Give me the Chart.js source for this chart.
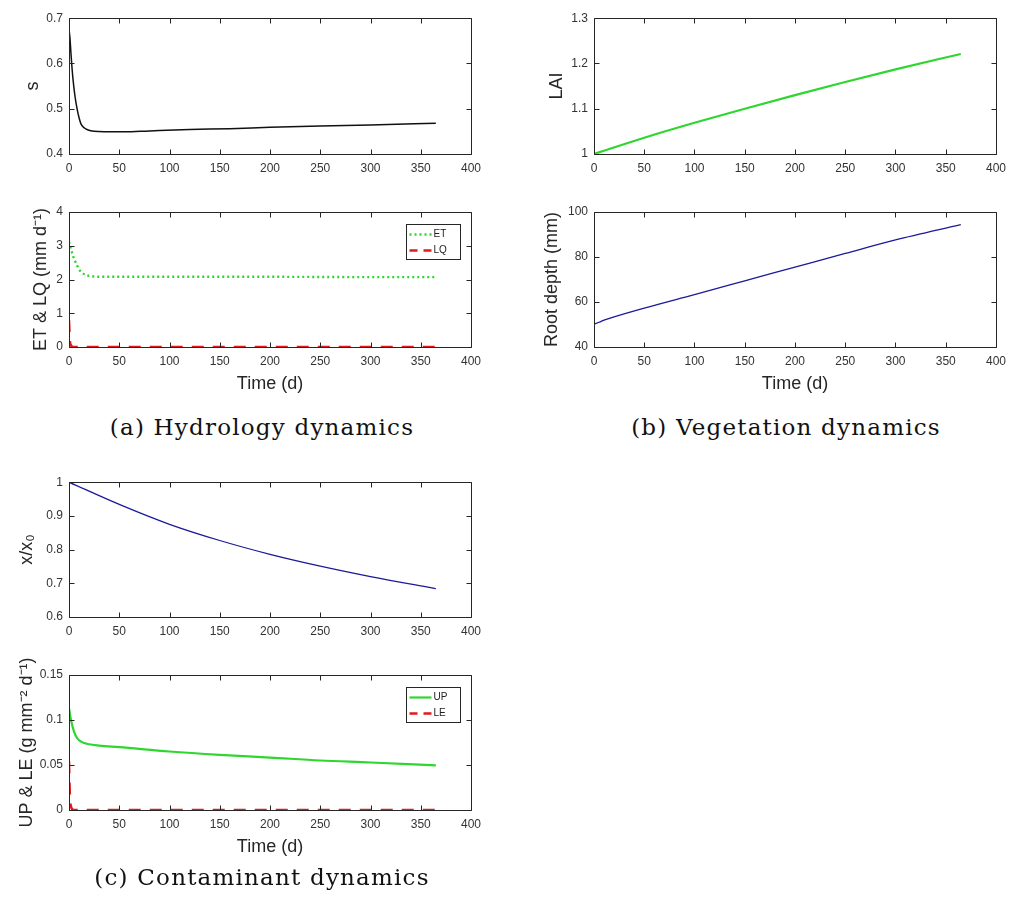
<!DOCTYPE html>
<html>
<head>
<meta charset="utf-8">
<script src="https://cdn.jsdelivr.net/npm/chart.js@4.4.0/dist/chart.umd.min.js"></script>
<style>
  body { margin:0; background:#fff; width:1013px; height:909px; position:relative; overflow:hidden; }
  canvas { position:absolute; }
  .cap { position:absolute; font-family:"DejaVu Serif", serif; font-size:23px; letter-spacing:1.2px; line-height:28px; color:#111; white-space:nowrap; transform:translateX(-50%); }
</style>
</head>
<body>
<canvas id="aTop"></canvas>
<canvas id="aBot"></canvas>
<canvas id="bTop"></canvas>
<canvas id="bBot"></canvas>
<canvas id="cTop"></canvas>
<canvas id="cBot"></canvas>
<div class="cap" style="left:262px;top:413px">(a) Hydrology dynamics</div>
<div class="cap" style="left:786px;top:413px">(b) Vegetation dynamics</div>
<div class="cap" style="left:262px;top:863px">(c) Contaminant dynamics</div>
<script>
// soil moisture
const sTime = [0, 1, 2, 3, 4, 6, 8, 10, 12, 15, 19, 25, 35, 55, 80, 120, 160, 200, 250, 300, 365];
const sVal  = [0.675, 0.655, 0.62, 0.59, 0.565, 0.527, 0.5, 0.48, 0.466, 0.458, 0.453, 0.45, 0.449, 0.449, 0.451, 0.454, 0.456, 0.459, 0.462, 0.464, 0.468];
// ET & LQ
const etTime = [0, 2, 4, 6, 8, 10, 13, 17, 22, 30, 100, 200, 300, 365];
const etVal  = [3.12, 2.9, 2.7, 2.55, 2.42, 2.3, 2.2, 2.13, 2.1, 2.08, 2.08, 2.08, 2.07, 2.07];
const lqTime = [0, 0.5, 1, 2, 3, 5, 365];
const lqVal  = [0.8, 0.4, 0.15, 0.05, 0.01, 0, 0];
// vegetation
const laiTime = [0, 50, 100, 150, 200, 250, 300, 365];
const laiVal  = [1.0, 1.036, 1.069, 1.1, 1.13, 1.159, 1.187, 1.221];
const rootTime = [0, 5, 10, 20, 50, 100, 150, 200, 250, 300, 365];
const rootVal  = [50.1, 51, 51.9, 53.4, 57.3, 63.3, 69.4, 75.5, 81.6, 87.6, 94.4];
// contaminant
const xTime = [0, 50, 100, 150, 200, 250, 300, 365];
const xVal  = [1.0, 0.934, 0.875, 0.827, 0.786, 0.751, 0.72, 0.684];
const upTime = [0, 2, 5, 8, 12, 20, 30, 50, 100, 150, 200, 250, 300, 365];
const upVal  = [0.113, 0.1, 0.087, 0.08, 0.076, 0.073, 0.0715, 0.0698, 0.065, 0.0613, 0.0583, 0.055, 0.0528, 0.0495];
const leTime = [0, 0.5, 1, 2, 3, 5, 365];
const leVal  = [0.054, 0.03, 0.012, 0.004, 0.001, 0, 0];

const GREEN = '#2fd62f', RED = '#e01b1b', NAVY = '#1a1a9a';
const TXT = '#333', AX = '#262626';
const SANS = '"Liberation Sans", Arial, sans-serif';

const pts = (t, v) => t.map((x, i) => ({ x: x, y: v[i] }));
const fmt = v => String(+(+v).toFixed(3));

// box + inward ticks on all sides, and a matlab-like legend
const frame = {
  id: 'frame',
  afterDraw(chart, args, opts) {
    const { ctx, chartArea: a, scales } = chart;
    const L = Math.round(a.left) + 0.5, R = Math.round(a.right) + 0.5;
    const T = Math.round(a.top) + 0.5, B = Math.round(a.bottom) + 0.5;
    ctx.save();
    ctx.strokeStyle = AX; ctx.lineWidth = 1;
    ctx.beginPath();
    ctx.rect(L, T, R - L, B - T);
    scales.x.ticks.forEach(t => {
      const p = Math.round(scales.x.getPixelForValue(t.value)) + 0.5;
      ctx.moveTo(p, B); ctx.lineTo(p, B - 5);
      ctx.moveTo(p, T); ctx.lineTo(p, T + 5);
    });
    scales.y.ticks.forEach(t => {
      const p = Math.round(scales.y.getPixelForValue(t.value)) + 0.5;
      ctx.moveTo(L, p); ctx.lineTo(L + 5, p);
      ctx.moveTo(R, p); ctx.lineTo(R - 5, p);
    });
    ctx.stroke();
    if (opts.legend) {
      const w = 54, h = 35;
      const bx = Math.round(a.right - 11 - w) + 0.5, by = Math.round(a.top + 12) + 0.5;
      ctx.fillStyle = '#fff';
      ctx.fillRect(bx, by, w, h);
      ctx.strokeStyle = AX;
      ctx.strokeRect(bx, by, w, h);
      chart.data.datasets.forEach((ds, i) => {
        const yy = by + 10 + i * 16;
        ctx.beginPath();
        ctx.strokeStyle = ds.borderColor;
        ctx.lineWidth = ds.borderWidth;
        ctx.setLineDash(ds.legendDash || ds.borderDash || []);
        ctx.moveTo(bx + 3, yy); ctx.lineTo(bx + 25, yy);
        ctx.stroke();
        ctx.setLineDash([]);
        ctx.fillStyle = '#222';
        ctx.font = '10px ' + SANS;
        ctx.textBaseline = 'middle';
        ctx.fillText(ds.label, bx + 27, yy);
      });
    }
    ctx.restore();
  }
};

function panel(id, pos, datasets, y, xTitle, legend) {
  const cv = document.getElementById(id);
  cv.width = pos.w; cv.height = pos.h;
  cv.style.left = pos.l + 'px'; cv.style.top = pos.t + 'px';
  const xh = xTitle ? 50 : 25;
  return new Chart(cv, {
    type: 'line',
    data: { datasets: datasets },
    options: {
      responsive: false, animation: false,
      layout: { padding: { left: 0, top: pos.pt, right: pos.pr, bottom: 0 } },
      plugins: { legend: { display: false }, tooltip: { enabled: false }, frame: { legend: legend } },
      elements: { point: { radius: 0 }, line: { cubicInterpolationMode: 'monotone' } },
      scales: {
        x: {
          type: 'linear', min: 0, max: 400,
          grid: { display: false, drawTicks: false }, border: { display: false },
          ticks: { stepSize: 50, autoSkip: false, maxRotation: 0, padding: 7, color: TXT,
                   font: { family: SANS, size: 12 } },
          title: { display: !!xTitle, text: xTitle, color: AX, padding: { top: 0, bottom: 2 },
                   font: { family: SANS, size: 18 } },
          afterFit: s => { s.height = xh; }
        },
        y: {
          min: y.min, max: y.max,
          grid: { display: false, drawTicks: false }, border: { display: false },
          ticks: { stepSize: y.step, autoSkip: false, padding: 6, color: TXT, callback: fmt,
                   font: { family: SANS, size: 12 } },
          title: { display: true, text: y.title, color: AX, padding: { top: y.tp, bottom: 0 },
                   font: { family: SANS, size: 18 } },
          afterFit: s => { s.width = 69; }
        }
      }
    },
    plugins: [frame]
  });
}

const line = (label, t, v, color, width, dash, legendDash) => ({
  label: label, data: pts(t, v), borderColor: color, borderWidth: width,
  borderDash: dash || [], legendDash: legendDash, fill: false, pointRadius: 0
});

panel('aTop', { l: 0, t: 5, w: 493, h: 12 + 137 + 25, pt: 12, pr: 22 },
  [line('s', sTime, sVal, '#111', 1.5)],
  { min: 0.4, max: 0.7, step: 0.1, title: 's', tp: 22 }, '', false);

panel('aBot', { l: 0, t: 172, w: 493, h: 40 + 135 + 50, pt: 40, pr: 22 },
  [line('ET', etTime, etVal, GREEN, 2.4, [2, 3]), line('LQ', lqTime, lqVal, RED, 2.5, [12, 9], [8, 6])],
  { min: 0, max: 4, step: 1, title: 'ET & LQ (mm d\u207B\u00B9)', tp: 30 }, 'Time (d)', true);

panel('bTop', { l: 525, t: 5, w: 488, h: 12 + 137 + 25, pt: 12, pr: 17 },
  [line('LAI', laiTime, laiVal, GREEN, 2.2)],
  { min: 1, max: 1.3, step: 0.1, title: 'LAI', tp: 21 }, '', false);

panel('bBot', { l: 525, t: 172, w: 488, h: 40 + 135 + 50, pt: 40, pr: 17 },
  [line('Root depth', rootTime, rootVal, NAVY, 1.3)],
  { min: 40, max: 100, step: 20, title: 'Root depth (mm)', tp: 16 }, 'Time (d)', false);

panel('cTop', { l: 0, t: 469, w: 493, h: 12 + 136 + 25, pt: 12, pr: 22 },
  [line('x/x0', xTime, xVal, NAVY, 1.3)],
  { min: 0.6, max: 1, step: 0.1, title: 'x/x\u2080', tp: 16 }, '', false);

panel('cBot', { l: 0, t: 625, w: 493, h: 50 + 135 + 50, pt: 50, pr: 22 },
  [line('UP', upTime, upVal, GREEN, 2.2), line('LE', leTime, leVal, RED, 2.5, [12, 9], [8, 6])],
  { min: 0, max: 0.15, step: 0.05, title: 'UP & LE (g mm\u207B\u00B2 d\u207B\u00B9)', tp: 16 }, 'Time (d)', true);
</script>
</body>
</html>
